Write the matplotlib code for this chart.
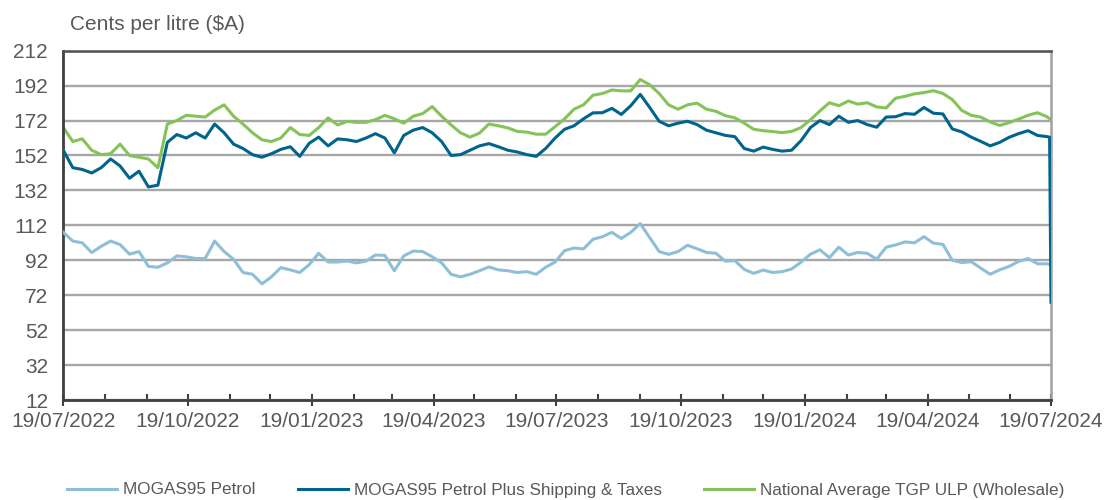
import matplotlib
matplotlib.use('Agg')
import matplotlib.pyplot as plt
import matplotlib.dates as mdates
import numpy as np

plt.rcParams['font.family'] = ['Liberation Sans', 'DejaVu Sans']

# weekly readings from 19/07/2022, plus the last two days of the window
start = np.datetime64('2022-07-19')
days = list(range(0, 735, 7)) + [730, 731]
dates = (start + np.array(days)).astype('datetime64[D]').astype(object)

mogas = [108, 103, 102, 96.4, 100, 103, 101, 95.5, 97, 88.5,
         88, 90.5, 94.5, 94, 93, 93, 103, 97, 92.6, 85,
         84, 78.5, 82.5, 87.8, 86.5, 85, 89.5, 96, 91, 91,
         91.6, 90.5, 91.5, 95, 94.8, 86, 94.5, 97.3, 97, 94,
         90.5, 84, 82.5, 84, 86, 88.2, 86.5, 86, 85, 85.5,
         84, 88, 91, 97.5, 99, 98.5, 104, 105.5, 108, 104.5,
         108, 113, 105, 97, 95.4, 97, 100.6, 98.6, 96.5, 96,
         91.5, 91.8, 86.8, 84.5, 86.4, 85, 85.5, 87, 90.9, 95.5,
         98, 93.5, 99.5, 95, 96.5, 96, 92.6, 99.5, 100.8, 102.5,
         102, 105.5, 101.8, 101.1, 92, 90.7, 91.2, 87.5, 84, 86.5,
         88.5, 91.3, 93, 90, 90,
         89.7, 89.7]

mogas_plus = [155, 145, 144, 142, 145, 150, 146, 139, 143, 134,
              135, 159.5, 164, 162, 165, 162, 170, 165, 158.5, 156,
              152.5, 151, 153, 155.5, 157, 151.5, 159, 162.5, 157.5, 161.5,
              161, 160, 162, 164.5, 162, 153.5, 163.5, 166.5, 168, 165,
              160, 152, 152.5, 155, 157.5, 158.8, 157, 155, 154, 152.5,
              151.5, 156, 162, 167, 169, 173, 176.4, 176.5, 179, 175.5,
              180.5, 187, 179.5, 171.6, 169, 170.5, 171.6, 169.7, 166.5, 165,
              163.5, 162.8, 156, 154.5, 156.8, 155.5, 154.5, 155, 160.5, 168,
              172, 169.7, 174.5, 171, 172, 169.7, 168.2, 174, 174.2, 176,
              175.6, 179.5, 176.2, 175.8, 167.2, 165.5, 162.5, 160.1, 157.5, 159.5,
              162.4, 164.5, 166.2, 163.5, 162.8,
              162.5, 68]

tgp = [168, 160, 161.5, 155, 152.5, 153, 158.5, 152, 151, 150,
       145, 170, 172, 175, 174.5, 174, 178, 181, 174.5, 170,
       165, 161, 160, 162, 168, 164, 163.5, 168, 173.5, 169.5,
       171.5, 171, 171, 172.5, 175, 173, 170.5, 174.5, 176, 180,
       174.5, 169.5, 165, 162.5, 164.8, 170, 169, 167.8, 165.8, 165.4,
       164.2, 164.2, 168.5, 173, 178.5, 181, 186.5, 187.5, 189.5, 189,
       189, 195.5, 192.5, 187.5, 181, 178.5, 181, 182, 178.5, 177.3,
       174.8, 173.6, 170.5, 167, 166.2, 165.7, 165.1, 165.8, 168, 172.5,
       177.5, 182.2, 180.5, 183.2, 181.4, 182.2, 179.8, 179.2, 184.8, 185.9,
       187.3, 188, 189.1, 187.5, 184, 177.8, 175, 174, 171.2, 169.2,
       170.8, 172.8, 175, 176.5, 174.2,
       173.1, 173.1]

labels = ['MOGAS95 Petrol', 'MOGAS95 Petrol Plus Shipping & Taxes',
          'National Average TGP ULP (Wholesale)']
colors = ['#8EBFD8', '#00648C', '#84C357']

text_grey = '#595959'

fig = plt.figure(figsize=(11.05, 5.0), dpi=100)
ax = fig.add_axes([0.0573, 0.2, 0.8938, 0.6986])

l1, = ax.plot(dates, mogas, color=colors[0], lw=2.2, zorder=3, label=labels[0])
l2, = ax.plot(dates, mogas_plus, color=colors[1], lw=2.2, zorder=4, label=labels[1])
l3, = ax.plot(dates, tgp, color=colors[2], lw=2.2, zorder=2, label=labels[2])

ax.set_xlim(np.datetime64('2022-07-19').astype(object), np.datetime64('2024-07-19').astype(object))
ax.set_ylim(12, 212)
ax.set_yticks(np.arange(12, 213, 20))
ax.yaxis.grid(True, color='#A6A6A6', lw=1.7)
ax.set_axisbelow(True)

ax.xaxis.set_major_locator(mdates.MonthLocator(bymonth=[1, 4, 7, 10], bymonthday=19))
ax.xaxis.set_minor_locator(mdates.MonthLocator(bymonthday=19))
ax.xaxis.set_major_formatter(mdates.DateFormatter('%d/%m/%Y'))

ax.tick_params(axis='x', which='major', direction='inout', length=9, width=1.5,
               color='#404040', labelsize=15, labelcolor=text_grey, pad=4)
ax.tick_params(axis='x', which='minor', direction='in', length=4, width=1.5, color='#404040')
ax.tick_params(axis='y', length=0, labelsize=15, labelcolor=text_grey, pad=11)

for side in ['left', 'bottom']:
    ax.spines[side].set_color('#404040')
    ax.spines[side].set_linewidth(2)
ax.spines['top'].set_color('#505050')
ax.spines['top'].set_linewidth(1.8)
ax.spines['right'].set_color('#A0A0A0')
ax.spines['right'].set_linewidth(1.8)

fig.text(0.0633, 0.952, r'Cents per litre (\$A)', fontsize=15, color=text_grey,
         ha='left', va='center')

fig.legend(handles=[l1, l2, l3], ncol=3, loc='center', bbox_to_anchor=(0.512, 0.02),
           frameon=False, fontsize=12.3, labelcolor=text_grey, handlelength=2.9,
           handletextpad=0.35, columnspacing=2.5)

fig.savefig('out.png', dpi=100)
